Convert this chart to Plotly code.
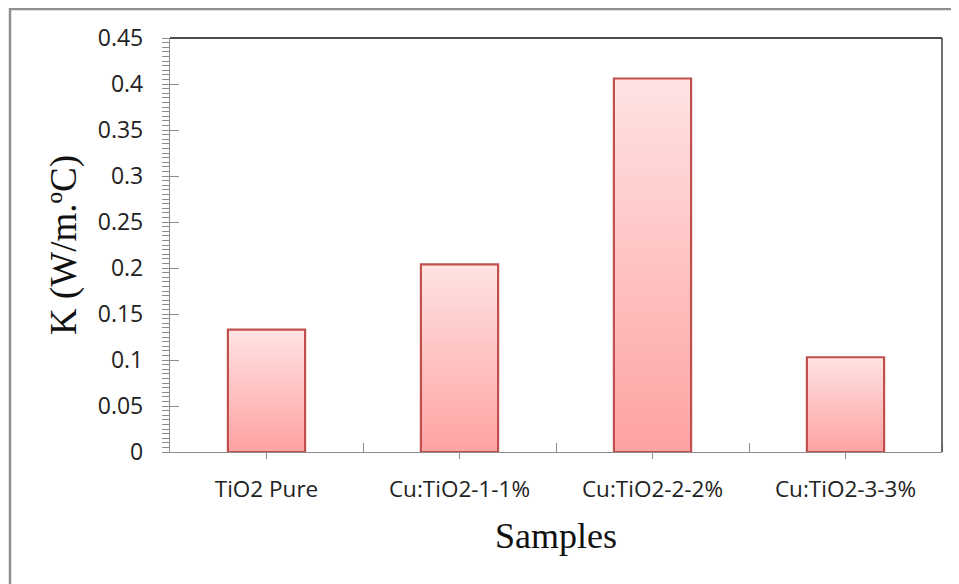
import plotly.graph_objects as go

categories = ["TiO2 Pure", "Cu:TiO2-1-1%", "Cu:TiO2-2-2%", "Cu:TiO2-3-3%"]
k_values = [0.133, 0.204, 0.406, 0.103]
y_tickvals = [0, 0.05, 0.1, 0.15, 0.2, 0.25, 0.3, 0.35, 0.4, 0.45]
y_ticktext = ["0", "0.05", "0.1", "0.15", "0.2", "0.25", "0.3", "0.35", "0.4", "0.45"]

BAR_W = 0.40
GRAY = "#8c8c8c"
L, T, PW, PH = 162, 30, 772, 414  # page has an 8px body offset

fig = go.Figure()
for i, (cat, v) in enumerate(zip(categories, k_values)):
    x0, x1 = i - BAR_W / 2, i + BAR_W / 2
    fig.add_trace(go.Scatter(
        x=[x0, x0, x1, x1, x0], y=[0, v, v, 0, 0],
        mode="lines", fill="toself",
        fillgradient=dict(type="vertical",
                          colorscale=[[0, "#ffa2a2"], [1, "#ffe3e3"]]),
        line=dict(color="#c0504d", width=2.2),
        name=cat, showlegend=False,
    ))

# invisible trace on overlaying axis for inside major y ticks
fig.add_trace(go.Scatter(x=[0], y=[0], yaxis="y2", mode="markers",
                         marker=dict(opacity=0), showlegend=False, hoverinfo="skip"))

fig.update_layout(
    width=959, height=584,
    margin=dict(l=L, r=959 - L - PW, t=T, b=584 - T - PH),
    paper_bgcolor="white", plot_bgcolor="white",
    showlegend=False,
    xaxis=dict(
        range=[-0.5, 3.5], tickvals=list(range(len(categories))), ticktext=categories,
        showgrid=False, zeroline=False,
        showline=True, linecolor=GRAY, linewidth=1.3,
        ticks="outside", ticklen=6, tickcolor=GRAY, tickwidth=1.3,
        ticklabelstandoff=11,
        tickfont=dict(family="Open Sans", size=22.5, color="#222"),
        minor=dict(tickvals=[0.5, 1.5, 2.5, 3.5], ticks="inside", ticklen=9,
                   tickcolor=GRAY, tickwidth=1.3, showgrid=False),
        title=dict(text="Samples", font=dict(family="Liberation Serif", size=36, color="#111"),
                   standoff=19),
        fixedrange=True,
    ),
    yaxis=dict(
        range=[0, 0.45], tickvals=y_tickvals, ticktext=y_ticktext,
        showgrid=False, zeroline=False,
        showline=True, linecolor=GRAY, linewidth=1.3,
        ticks="outside", ticklen=7, tickcolor=GRAY, tickwidth=1.3,
        ticklabelstandoff=14,
        tickfont=dict(family="Open Sans", size=23, color="#222"),
        minor=dict(dtick=0.005, tick0=0, ticks="outside", ticklen=7,
                   tickcolor=GRAY, tickwidth=1, showgrid=False),
        title=dict(text="K (W/m.ºC)", font=dict(family="Liberation Serif", size=37, color="#111"),
                   standoff=9),
        fixedrange=True,
    ),
    yaxis2=dict(
        overlaying="y", matches="y", range=[0, 0.45], tickvals=y_tickvals,
        showticklabels=False, showgrid=False, zeroline=False, showline=False,
        ticks="inside", ticklen=9, tickcolor=GRAY, tickwidth=1.3, side="left",
    ),
    shapes=[
        # plot-area frame top and right
        dict(type="line", xref="paper", yref="paper", x0=0, x1=1, y0=1, y1=1,
             line=dict(color="#111", width=1.5)),
        dict(type="line", xref="paper", yref="paper", x0=1, x1=1, y0=0, y1=1,
             line=dict(color="#444", width=1.5)),
        # outer chart border
        dict(type="rect", xref="paper", yref="paper",
             x0=(10 - 170) / PW, x1=1.2, y0=-0.6, y1=(452 - 9) / PH,
             line=dict(color="#8f8f8f", width=2.5), layer="below"),
    ],
)

fig.write_html("out.html")
